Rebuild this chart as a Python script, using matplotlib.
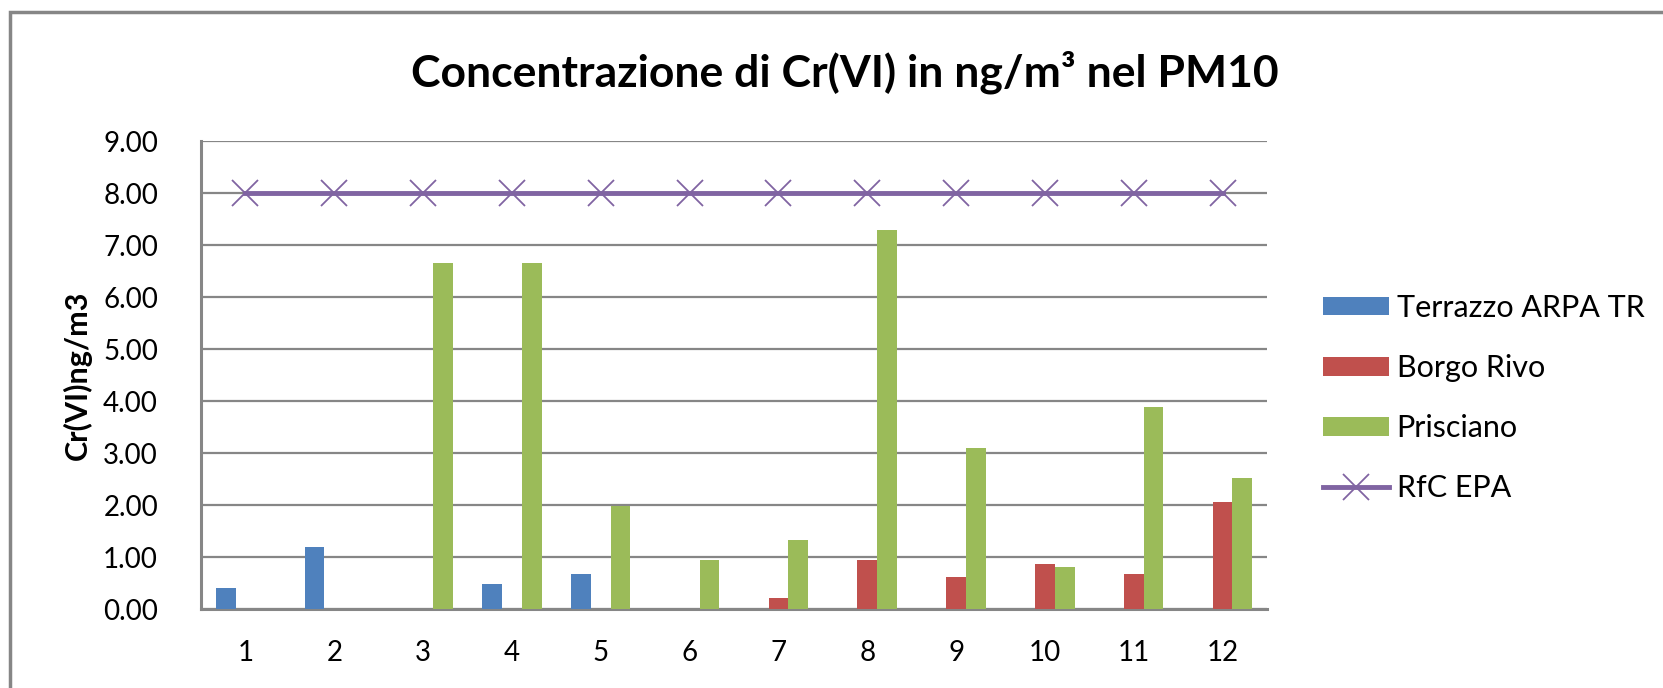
import matplotlib
matplotlib.use('Agg')
import matplotlib.pyplot as plt
import numpy as np
from matplotlib.patches import Rectangle
from matplotlib.ticker import FormatStrFormatter

plt.rcParams['font.family'] = ['Lato', 'DejaVu Sans']

#chart data
months = ['1', '2', '3', '4', '5', '6', '7', '8', '9', '10', '11', '12']
terrazzo = [0.41, 1.20, 0, 0.49, 0.68, 0, 0, 0, 0, 0, 0, 0]
borgo_rivo = [0, 0, 0, 0, 0, 0, 0.22, 0.95, 0.62, 0.87, 0.68, 2.06]
prisciano = [0, 0, 6.65, 6.65, 1.99, 0.95, 1.33, 7.30, 3.10, 0.81, 3.88, 2.52]
rfc_epa = [8.0] * 12

grey = '#868686'

fig = plt.figure(figsize=(16.63, 6.88), dpi=100)
ax = fig.add_axes([0.1209, 0.1148, 0.641, 0.680])

#grey frame round the chart area (right and bottom edges fall outside the picture)
fig.patches.append(Rectangle((10 / 1663, -0.05), 1.05, 1.05 - 12 / 688,
                             transform=fig.transFigure, fill=False,
                             edgecolor=grey, linewidth=2.5))

x = np.arange(1, 13)
w = 1 / 4.5
b1 = ax.bar(x - w, terrazzo, w, color='#4F81BD', label='Terrazzo ARPA TR', zorder=3)
b2 = ax.bar(x, borgo_rivo, w, color='#C0504D', label='Borgo Rivo', zorder=3)
b3 = ax.bar(x + w, prisciano, w, color='#9BBB59', label='Prisciano', zorder=3)
l1, = ax.plot(x, rfc_epa, color='#8064A2', linewidth=3.5, marker='x', markersize=19,
              markeredgewidth=1.3, label='RfC EPA', zorder=4)

ax.set_xlim(0.5, 12.5)
ax.set_ylim(0, 9)
ax.set_yticks(np.arange(0, 10, 1))
ax.yaxis.set_major_formatter(FormatStrFormatter('%.2f'))
ax.set_xticks(x)
ax.set_xticklabels(months)
ax.grid(axis='y', color=grey, linewidth=1.6, zorder=0)
ax.set_axisbelow(True)

for s in ['top', 'right']:
    ax.spines[s].set_visible(False)
for s in ['left', 'bottom']:
    ax.spines[s].set_color(grey)
    ax.spines[s].set_linewidth(2.2)
ax.tick_params(axis='both', length=0, labelsize=20)
ax.tick_params(axis='x', pad=22)
ax.tick_params(axis='y', pad=31)

ax.set_ylabel('Cr(VI)ng/m3', fontsize=22, fontweight='bold')
ax.yaxis.set_label_coords(-0.102, 0.5)

fig.text(0.508, 0.895, 'Concentrazione di Cr(VI) in ng/m³ nel PM10',
         ha='center', va='center', fontsize=32, fontweight='bold')

ax.legend([b1, b2, b3, l1], ['Terrazzo ARPA TR', 'Borgo Rivo', 'Prisciano', 'RfC EPA'],
          loc='center left', bbox_to_anchor=(1323 / 1663, 0.4215), bbox_transform=fig.transFigure,
          frameon=False, fontsize=22, handlelength=2.15, handleheight=0.57,
          labelspacing=1.05, handletextpad=0.26, borderpad=0, borderaxespad=0)

fig.savefig('out.png', dpi=100)
